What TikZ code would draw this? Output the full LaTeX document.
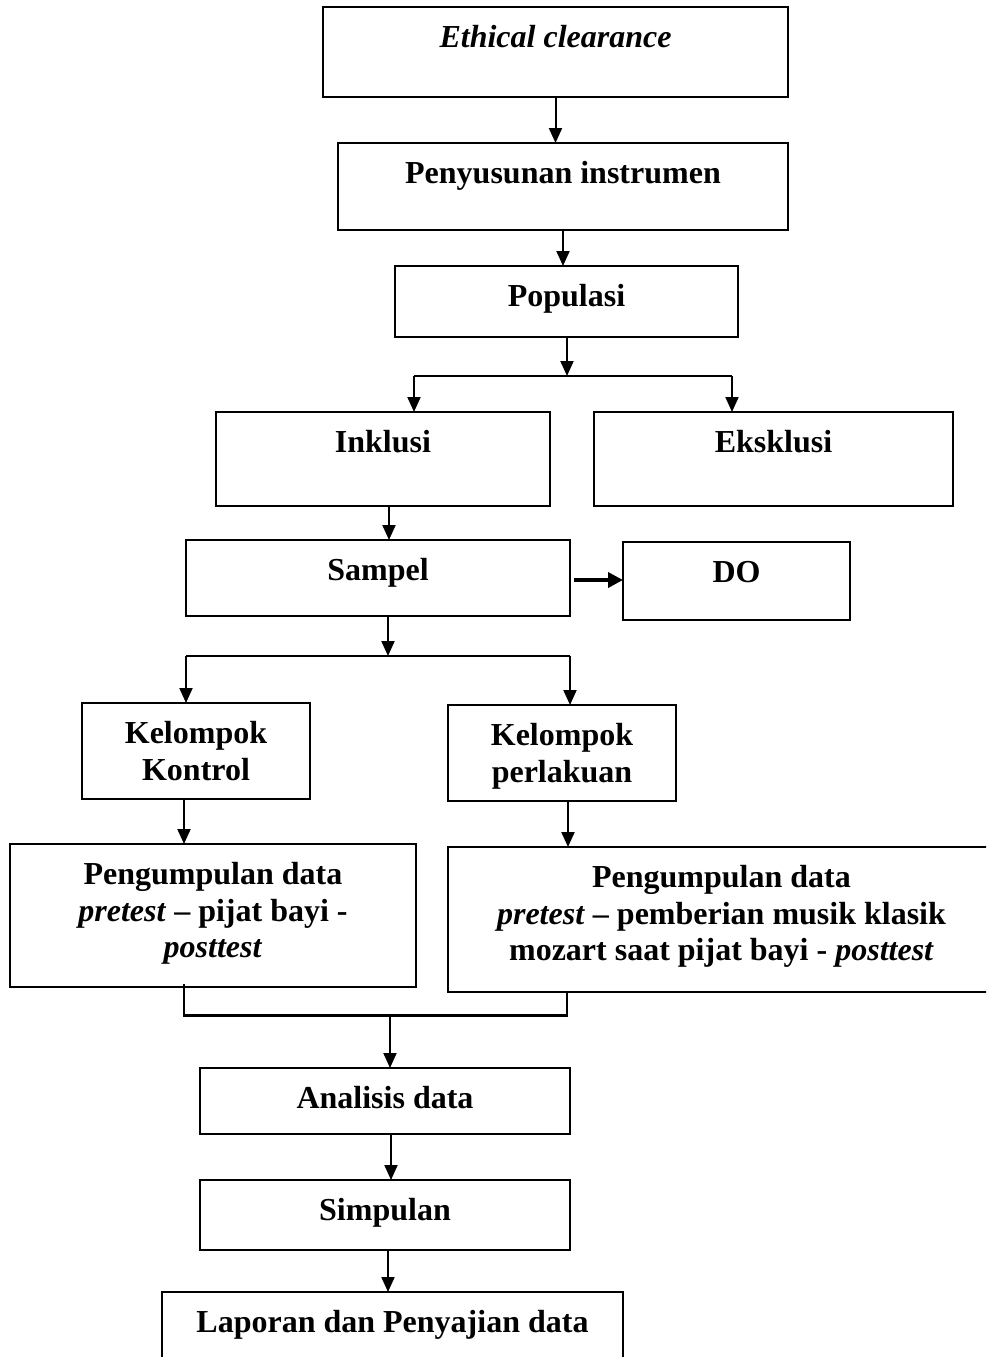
\documentclass[tikz,border=0pt]{standalone}
\usepackage{fontspec}
\setmainfont{Liberation Serif}
\usetikzlibrary{arrows.meta}
\newcommand{\ml}[1]{\begin{tabular}[t]{@{}c@{}}#1\end{tabular}}
\tikzset{
  box/.style={draw, line width=2pt, inner xsep=0pt, inner ysep=0pt, outer sep=0pt,
    anchor=north west, text height=40.5pt,
    font=\fontsize{32}{36.5}\selectfont\bfseries},
  arr/.style={line width=2pt, -{Triangle[length=15pt,width=13pt]}},
  thickarr/.style={line width=3.5pt, -{Triangle[length=15pt,width=15pt]}},
  ln/.style={line width=2pt},
  ln3/.style={line width=3pt}
}
\begin{document}
\begin{tikzpicture}[x=1pt,y=-1pt]
\useasboundingbox (0,0) rectangle (986,1357);
\clip (0,0) rectangle (986,1357);
% boxes
\node[box, minimum width=465pt, minimum height=90pt, text depth=49.5pt] (eth) at (323,7) {\textit{Ethical clearance}};
\node[box, minimum width=450pt, minimum height=87pt, text depth=46.5pt] (pen) at (338,143) {Penyusunan instrumen};
\node[box, minimum width=343pt, minimum height=71pt, text depth=30.5pt] (pop) at (395,266) {Populasi};
\node[box, minimum width=334pt, minimum height=94pt, text depth=53.5pt] (inc) at (216,412) {Inklusi};
\node[box, minimum width=359pt, minimum height=94pt, text depth=53.5pt] (exc) at (594,412) {Eksklusi};
\node[box, minimum width=384pt, minimum height=76pt, text depth=35.5pt] (sam) at (186,540) {Sampel};
\node[box, minimum width=227pt, minimum height=78pt, text depth=37.5pt] (do) at (623,542) {DO};
\node[box, minimum width=228pt, minimum height=96pt, text depth=55.5pt] (kk) at (82,703) {\ml{Kelompok\\Kontrol}};
\node[box, minimum width=228pt, minimum height=96pt, text depth=55.5pt] (kp) at (448,705) {\ml{Kelompok\\perlakuan}};
\node[box, minimum width=406pt, minimum height=143pt, text depth=102.5pt] (pl) at (10,844) {\ml{Pengumpulan data\\\textit{pretest} -- pijat bayi -\\\textit{posttest}}};
\node[box, minimum width=547pt, minimum height=145pt, text depth=104.5pt] (pr) at (448,847) {\ml{Pengumpulan data\\\textit{pretest} -- pemberian musik klasik\\mozart saat pijat bayi - \textit{posttest}}};
\node[box, minimum width=370pt, minimum height=66pt, text depth=25.5pt] (ana) at (200,1068) {Analisis data};
\node[box, minimum width=370pt, minimum height=70pt, text depth=29.5pt] (sim) at (200,1180) {Simpulan};
\node[box, minimum width=461pt, minimum height=80pt, text depth=39.5pt] (lap) at (162,1292) {Laporan dan Penyajian data};
% helper coordinates
\coordinate (b1) at (567,376);
\coordinate (b1l) at (414,376);
\coordinate (b1r) at (732,376);
\coordinate (x1) at (389,0);
\coordinate (b2) at (388,656);
\coordinate (b2l) at (186,656);
\coordinate (b2r) at (570,656);
\coordinate (x2) at (184,0);
\coordinate (x3) at (568,0);
\coordinate (m1l) at (184,1015);
\coordinate (m1r) at (567,1015);
\coordinate (m2) at (390,1015);
\coordinate (x4) at (391,0);
\coordinate (x5) at (388,0);
% connectors
\draw[arr] (eth.south) -- (pen.north -| eth.south);
\draw[arr] (pen.south) -- (pop.north -| pen.south);
\draw[arr] (pop.south -| b1) -- (b1);
\draw[ln] (b1l) -- (b1r);
\draw[arr] (b1l) -- (b1l |- inc.north);
\draw[arr] (b1r) -- (b1r |- exc.north);
\draw[arr] (inc.south -| x1) -- (sam.north -| x1);
\draw[thickarr] ([xshift=4pt]sam.east |- 0,580) -- (do.west |- 0,580);
\draw[arr] (sam.south -| b2) -- (b2);
\draw[ln] (b2l) -- (b2r);
\draw[arr] (b2l) -- (b2l |- kk.north);
\draw[arr] (b2r) -- (b2r |- kp.north);
\draw[arr] (kk.south -| x2) -- (pl.north -| x2);
\draw[arr] (kp.south -| x3) -- (pr.north -| x3);
\draw[ln] ([yshift=3pt]pl.south -| m1l) -- (m1l);
\draw[ln] (pr.south -| m1r) -- (m1r);
\draw[ln3] ([xshift=-1pt]m1l) -- ([xshift=1pt]m1r);
\draw[arr] (m2) -- (ana.north -| m2);
\draw[arr] (ana.south -| x4) -- (sim.north -| x4);
\draw[arr] (sim.south -| x5) -- (lap.north -| x5);
\end{tikzpicture}
\end{document}
